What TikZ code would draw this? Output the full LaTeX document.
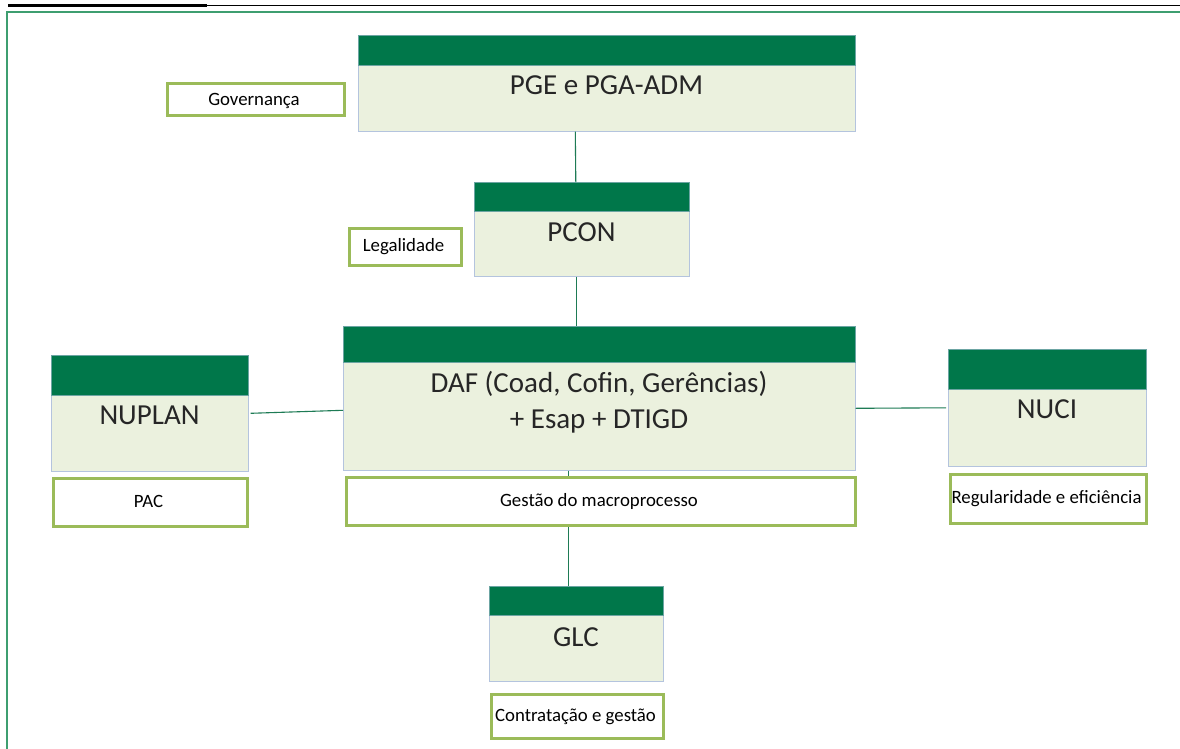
\documentclass[tikz,border=0pt]{standalone}
\usepackage{fontspec}
\setmainfont{Carlito}
\usetikzlibrary{positioning}
\definecolor{orgHead}{HTML}{00774A}
\definecolor{orgBody}{HTML}{EBF1DE}
\definecolor{orgEdge}{HTML}{B4C4DE}
\definecolor{orgTag}{HTML}{9BBB59}
\definecolor{orgLink}{HTML}{1E7B55}
\definecolor{orgFrame}{HTML}{3E9E70}
\definecolor{orgInk}{HTML}{262626}

\begin{document}
\begin{tikzpicture}[x=1pt,y=-1pt,line join=miter]
\path[fill=white,use as bounding box] (0,0) rectangle (1180,749);
\tikzset{unit/.style={fill=orgBody,draw=orgEdge,line width=0.6pt,anchor=north west,inner sep=0pt},unithead/.style={fill=orgHead,draw=orgEdge!60!orgHead,line width=0.6pt,anchor=north west,inner sep=0pt},tag/.style={fill=white,draw=orgTag,line width=3pt,anchor=north west,inner sep=0pt},title/.style={anchor=base,text=orgInk,font=\fontsize{29}{36}\selectfont,align=center},tagtext/.style={anchor=base,text=black,font=\fontsize{18.8}{22}\selectfont},link/.style={draw=orgLink,line width=1.1pt}}
\draw[black,line width=3pt] (8,5.5) -- (207,5.5);
\draw[black,line width=1.8pt] (207,5.5) -- (1180,5.5);
\draw[orgFrame,line width=1.2pt] (1180,12) -- (7,12) -- (7,749);
% units
\node[unit,minimum width=497pt,minimum height=96pt] (pge) at (358,35) {};
\node[unithead,minimum width=497pt,minimum height=30pt] (pgeHead) at (358,35) {};
\node[title] (pgeText) at (606.5,95) {PGE e PGA-ADM};
\node[unit,minimum width=215pt,minimum height=94pt] (pcon) at (474,182) {};
\node[unithead,minimum width=215pt,minimum height=29pt] (pconHead) at (474,182) {};
\node[title] (pconText) at (581.5,241) {PCON};
\node[unit,minimum width=512pt,minimum height=144pt] (daf) at (343,326) {};
\node[unithead,minimum width=512pt,minimum height=36pt] (dafHead) at (343,326) {};
\node[title] (dafText) at (599,428) {DAF (Coad, Cofin, Gerências)\\+ Esap + DTIGD};
\node[unit,minimum width=197pt,minimum height=116pt] (nuplan) at (51,355) {};
\node[unithead,minimum width=197pt,minimum height=40pt] (nuplanHead) at (51,355) {};
\node[title] (nuplanText) at (149.5,424) {NUPLAN};
\node[unit,minimum width=198pt,minimum height=117pt] (nuci) at (948,349) {};
\node[unithead,minimum width=198pt,minimum height=40pt] (nuciHead) at (948,349) {};
\node[title] (nuciText) at (1047,418) {NUCI};
\node[unit,minimum width=174pt,minimum height=95pt] (glc) at (489,586) {};
\node[unithead,minimum width=174pt,minimum height=29pt] (glcHead) at (489,586) {};
\node[title] (glcText) at (576,646) {GLC};
% links
\draw[link] ([xshift=-31.5pt]pge.south) -- ([xshift=-6pt]pcon.north);
\draw[link] ([xshift=-5.5pt]pcon.south) -- ([xshift=-23pt]daf.north);
\draw[link] ([xshift=2pt]nuplan.east) -- ([yshift=-12pt]daf.west);
\draw[link] ([yshift=-10pt]daf.east) -- ([xshift=-2pt]nuci.west);
\draw[link] ([xshift=-31pt]daf.south) -- ([xshift=-8pt]glc.north);
% tags
\node[tag,minimum width=177pt,minimum height=32pt] (gov) at (165.5,82.5) {};
\node[tagtext] (govText) at (254,106) {Governança};
\node[tag,minimum width=112pt,minimum height=37pt] (leg) at (347.5,226.5) {};
\node[tagtext] (legText) at (403.5,251) {Legalidade};
\node[tag,minimum width=509pt,minimum height=48pt] (gestao) at (344.5,475.5) {};
\node[tagtext] (gestaoText) at (599,506) {Gestão do macroprocesso};
\node[tag,minimum width=194pt,minimum height=48pt] (pac) at (51.5,476.5) {};
\node[tagtext] (pacText) at (148.5,507) {PAC};
\node[tag,minimum width=196pt,minimum height=49pt] (regul) at (948.5,472.5) {};
\node[tagtext] (regulText) at (1046.5,503) {Regularidade e eficiência};
\node[tag,minimum width=172pt,minimum height=44pt] (contr) at (489.5,692.5) {};
\node[tagtext] (contrText) at (575.5,721) {Contratação e gestão};
\end{tikzpicture}
\end{document}
